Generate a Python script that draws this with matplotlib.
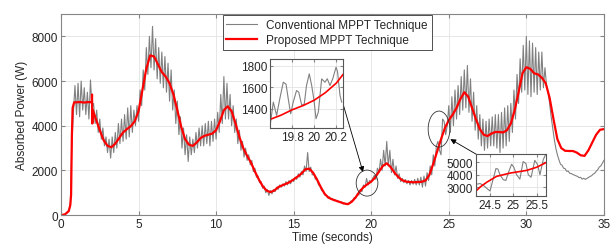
import matplotlib
matplotlib.use('Agg')
import matplotlib.pyplot as plt
from matplotlib.patches import Ellipse
import numpy as np

plt.rcParams['font.family'] = ['Liberation Sans', 'DejaVu Sans']
plt.rcParams['font.size'] = 8.5

# conventional MPPT, sampled every 0.1 s from 0 to 35 s
conv_p = [
    0, 10, 30, 60, 110, 200, 500, 3200, 4600, 5800,
    4500, 5900, 4400, 6000, 4700, 5700, 4500, 5500, 4300, 6050,
    4800, 5000, 4100, 4700, 3700, 4300, 3400, 3900, 3100, 3500,
    2800, 3400, 2550, 3500, 2800, 3700, 3000, 4100, 3200, 4300,
    3300, 4500, 3400, 4800, 3500, 4900, 3700, 4700, 4000, 4900,
    4200, 5600, 4900, 6500, 5600, 7500, 6300, 8000, 6600, 8450,
    6500, 7900, 6100, 7500, 5900, 7300, 5700, 7100, 5500, 6800,
    5100, 6500, 4700, 5600, 4100, 5100, 3600, 4400, 3000, 3900,
    2700, 3600, 2400, 3500, 2700, 3400, 2800, 3700, 3000, 3900,
    3100, 4000, 3100, 4100, 3200, 4200, 3100, 4200, 3300, 4300,
    3400, 4600, 3700, 5400, 4100, 6200, 4300, 5900, 4300, 5400,
    4000, 4900, 3700, 4300, 3200, 3800, 2900, 3300, 2600, 3000,
    2450, 2700, 2250, 2450, 1950, 2100, 1700, 1750, 1450, 1500,
    1200, 1300, 1000, 1150, 880, 1100, 950, 1150, 1050, 1250,
    1150, 1350, 1250, 1400, 1300, 1500, 1350, 1550, 1400, 1600,
    1500, 1700, 1600, 1850, 1700, 1950, 1800, 2200, 1950, 2800,
    1950, 2150, 1800, 1850, 1600, 1650, 1350, 1300, 1100, 1050,
    900, 880, 770, 820, 700, 740, 640, 680, 600, 620,
    560, 590, 500, 540, 470, 530, 520, 640, 640, 780,
    750, 950, 900, 1150, 1050, 1350, 1240, 1640, 1350, 1550,
    1480, 1650, 1780, 1600, 2100, 1900, 2500, 2000, 2900, 2200,
    3300, 2200, 2900, 1900, 2500, 1800, 2200, 1650, 1850, 1500,
    1650, 1450, 1600, 1400, 1550, 1350, 1550, 1380, 1600, 1350,
    1650, 1350, 1700, 1250, 1750, 1300, 1900, 1550, 2200, 1800,
    2700, 2200, 3100, 3300, 2900, 2700, 4300, 4200, 3600, 4000,
    4900, 3700, 5300, 4000, 5600, 4300, 5800, 4500, 6200, 4700,
    6500, 4800, 6700, 4600, 6100, 4200, 5500, 3800, 4900, 3400,
    4500, 3100, 4300, 2900, 4200, 3000, 4300, 3100, 4400, 3100,
    4500, 3000, 4500, 2800, 4600, 3000, 4800, 3100, 4900, 3300,
    5000, 3700, 5600, 4300, 6300, 5000, 7000, 5500, 7600, 5600,
    8000, 5400, 7800, 5300, 7700, 5500, 7500, 5400, 7300, 5600,
    7300, 5700, 6600, 5800, 5500, 5000, 4400, 3900, 3400, 3000,
    2700, 2480, 2280, 2230, 2100, 2080, 1960, 1970, 1870, 1860,
    1820, 1790, 1760, 1730, 1680, 1690, 1610, 1650, 1600, 1640,
    1680, 1730, 1760, 1830, 1870, 1960, 2030, 2150, 2200, 2330,
    2450,
]
conv_t = np.arange(len(conv_p)) * 0.1

# proposed MPPT
prop_t = [0.0, 0.25, 0.5, 0.6, 0.65, 0.7, 0.75, 0.85, 1.0, 1.25, 1.5, 1.75, 1.98, 2.0, 2.02, 2.05,
          2.25, 2.5, 2.75, 3.0, 3.25, 3.5, 3.75, 4.0, 4.25, 4.5, 4.75, 5.0, 5.25, 5.5, 5.75,
          6.0, 6.25, 6.5, 6.75, 7.0, 7.25, 7.5, 7.75, 8.0, 8.25, 8.5, 8.75, 9.0, 9.25, 9.5,
          9.75, 10.0, 10.25, 10.5, 10.75, 11.0, 11.25, 11.5, 11.75, 12.0, 12.25, 12.5, 12.75,
          13.0, 13.25, 13.5, 13.75, 14.0, 14.25, 14.5, 14.75, 15.0, 15.25, 15.5, 15.75, 16.0,
          16.25, 16.5, 16.75, 17.0, 17.25, 17.5, 17.75, 18.0, 18.25, 18.5, 18.75, 19.0, 19.25,
          19.5, 19.75, 20.0, 20.25, 20.5, 20.75, 21.0, 21.25, 21.5, 21.75, 22.0, 22.25, 22.5,
          22.75, 23.0, 23.25, 23.5, 23.75, 24.0, 24.25, 24.5, 24.75, 25.0, 25.25, 25.5, 25.75,
          26.0, 26.25, 26.5, 26.75, 27.0, 27.25, 27.5, 27.75, 28.0, 28.25, 28.5, 28.75, 29.0,
          29.25, 29.5, 29.75, 30.0, 30.25, 30.5, 30.75, 31.0, 31.25, 31.5, 31.75, 32.0, 32.25,
          32.5, 32.75, 33.0, 33.25, 33.5, 33.75, 34.0, 34.25, 34.5, 34.75, 35.0]
prop_p = [0, 30, 180, 450, 900, 3500, 4800, 5050, 5050, 5060, 5040, 5060, 5050, 5400, 4100, 4700,
          4300, 3800, 3350, 3100, 3040, 3200, 3450, 3700, 3850, 3980, 4200, 4650, 5600, 6550, 7150,
          7100, 6750, 6400, 6200, 5900, 5400, 4700, 3950, 3400, 3150, 3100, 3250, 3450, 3550, 3600,
          3650, 3800, 4200, 4700, 4870, 4650, 4100, 3500, 3000, 2650, 2350, 1950, 1600,
          1300, 1100, 1030, 1100, 1250, 1330, 1400, 1480, 1600, 1720, 1860, 2050, 2080,
          1900, 1600, 1250, 950, 780, 700, 640, 580, 520, 490, 600, 800, 1050,
          1250, 1380, 1500, 1680, 1950, 2200, 2320, 2150, 1900, 1700, 1560, 1500, 1480,
          1470, 1480, 1490, 1550, 1800, 2300, 2850, 3400, 3900, 4250, 4500, 4800, 5200,
          5500, 5300, 4800, 4300, 3850, 3600, 3540, 3650, 3720, 3720, 3700, 3800, 4100,
          4700, 5500, 6350, 6620, 6550, 6350, 6300, 6150, 5900, 5250, 4300, 3400, 3000,
          2880, 2870, 2870, 2800, 2680, 2650, 2900, 3250, 3600, 3820, 3850]

# zoomed detail 1 (around 20 s)
z1_conv_t = [19.60, 19.63, 19.66, 19.69, 19.72, 19.745, 19.765, 19.787, 19.81, 19.84, 19.86,
             19.887, 19.91, 19.93, 19.955, 19.977, 19.998, 20.016, 20.037, 20.067, 20.097,
             20.118, 20.142, 20.167, 20.197, 20.21, 20.233, 20.248]
z1_conv_p = [1233, 1462, 1338, 1500, 1648, 1630, 1493, 1353, 1462, 1570, 1555,
             1431, 1445, 1617, 1726, 1617, 1477, 1307, 1369, 1679, 1648,
             1680, 1617, 1679, 1788, 1750, 1524, 1462]
z1_prop_t = [19.6, 19.7, 19.8, 19.9, 20.0, 20.1, 20.2, 20.26]
z1_prop_p = [1300, 1340, 1390, 1430, 1480, 1550, 1640, 1720]

# zoomed detail 2 (around 25 s)
z2_conv_t = [24.215, 24.286, 24.356, 24.435, 24.5, 24.564, 24.628, 24.67, 24.714, 24.785,
             24.84, 24.907, 24.964, 25.01, 25.07, 25.14, 25.21, 25.27, 25.32, 25.38,
             25.46, 25.52, 25.57, 25.64, 25.69]
z2_conv_p = [3240, 3300, 3160, 2900, 2700, 3600, 4500, 4450, 4000, 3600,
             3550, 4300, 4840, 4600, 4000, 3650, 5050, 4900, 4000, 3800,
             5150, 4800, 4000, 5200, 5600]
z2_prop_t = [24.2, 24.3, 24.43, 24.64, 24.93, 25.29, 25.5, 25.7]
z2_prop_p = [2700, 3050, 3400, 3870, 4130, 4350, 4600, 4970]

gray = '#808080'
txt = '#262626'
frame = '#858585'

fig = plt.figure(figsize=(6.1, 2.51), dpi=100)
ax = fig.add_axes([0.1, 0.139, 0.89, 0.801])
ax.plot(conv_t, conv_p, color=gray, lw=0.8, label='Conventional MPPT Technique')
ax.plot(prop_t, prop_p, color='red', lw=1.6, label='Proposed MPPT Technique')
ax.set_xlim(0, 35)
ax.set_ylim(0, 9000)
ax.set_xticks(range(0, 36, 5))
ax.set_yticks(range(0, 8001, 2000))
ax.set_xlabel('Time (seconds)', color=txt, labelpad=1)
ax.set_ylabel('Absorbed Power (W)', color=txt, labelpad=3)
ax.grid(True, color='#e3e3e3', lw=0.6)
ax.tick_params(direction='in', length=3, top=True, right=True, colors=frame,
               labelcolor=txt, labelsize=8.5, pad=2)
for s in ax.spines.values():
    s.set_color(frame)
leg = ax.legend(loc='upper left', bbox_to_anchor=(0.298, 0.993), borderaxespad=0,
                fancybox=False, edgecolor='#333333', framealpha=1, handlelength=2.6,
                fontsize=8.5, borderpad=0.3, labelspacing=0.25)
for t in leg.get_texts():
    t.set_color(txt)
leg.get_frame().set_linewidth(0.6)

ax.add_patch(Ellipse((19.73, 1433), 1.4, 1164, fill=False, ec='#333333', lw=0.6, zorder=5))
ax.add_patch(Ellipse((24.37, 3851), 1.4, 1612, fill=False, ec='#333333', lw=0.6, zorder=5))

ins1 = fig.add_axes([0.4426, 0.486, 0.1197, 0.275])
ins1.plot(z1_conv_t, z1_conv_p, color=gray, lw=0.8)
ins1.plot(z1_prop_t, z1_prop_p, color='red', lw=1.2)
ins1.set_xlim(19.6, 20.26)
ins1.set_ylim(1220, 1865)
ins1.set_xticks([19.8, 20, 20.2])
ins1.set_xticklabels(['19.8', '20', '20.2'])
ins1.set_yticks([1400, 1600, 1800])

ins2 = fig.add_axes([0.7803, 0.2151, 0.1148, 0.167])
ins2.plot(z2_conv_t, z2_conv_p, color=gray, lw=0.8)
ins2.plot(z2_prop_t, z2_prop_p, color='red', lw=1.2)
ins2.set_xlim(24.2, 25.7)
ins2.set_ylim(2300, 5650)
ins2.set_xticks([24.5, 25, 25.5])
ins2.set_xticklabels(['24.5', '25', '25.5'])
ins2.set_yticks([3000, 4000, 5000])

for a in (ins1, ins2):
    a.grid(True, color='#e3e3e3', lw=0.6)
    a.tick_params(direction='in', length=2, top=True, right=True, colors=frame,
                  labelcolor=txt, labelsize=8.5, pad=2)
    for s in a.spines.values():
        s.set_color('#555555')

ax.annotate('', xy=(19.47, 1925), xycoords='data', xytext=(1.0, 0.35), textcoords=ins1.transAxes,
            arrowprops=dict(arrowstyle='-|>', color='k', lw=0.6, mutation_scale=8,
                            shrinkA=0, shrinkB=0))
ax.annotate('', xy=(25.1, 3400), xycoords='data', xytext=(0.0, 1.0), textcoords=ins2.transAxes,
            arrowprops=dict(arrowstyle='-|>', color='k', lw=0.6, mutation_scale=8,
                            shrinkA=0, shrinkB=0))

fig.savefig('out.png', dpi=100)
